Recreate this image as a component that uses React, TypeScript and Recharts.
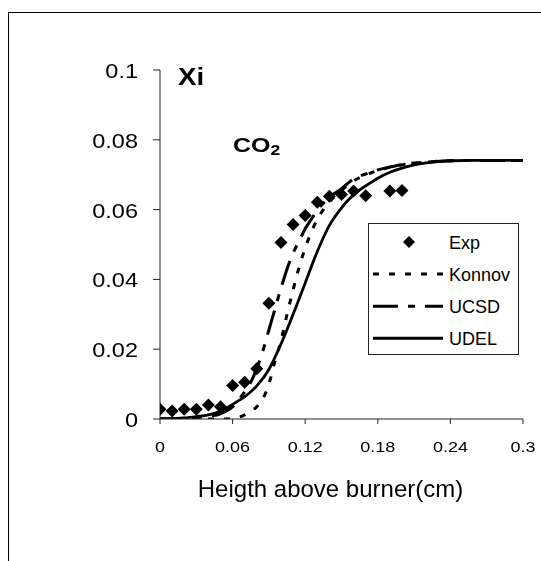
import React from 'react';
import { ComposedChart, Line, Scatter, XAxis, YAxis, Legend } from 'recharts';

const FONT = '"Liberation Sans", Arial, Helvetica, sans-serif';

const expX = [0, 0.01, 0.02, 0.03, 0.04, 0.05, 0.06, 0.07, 0.08, 0.09, 0.1, 0.11, 0.12, 0.13, 0.14, 0.15, 0.16, 0.17, 0.19, 0.2];
const expY = [0.0028, 0.0023, 0.0028, 0.0028, 0.004, 0.0035, 0.0096, 0.0105, 0.0144, 0.0332, 0.0506, 0.0557, 0.0583, 0.0621, 0.0638, 0.0643, 0.0653, 0.064, 0.0653, 0.0655];

const konnovX = [0, 0.03, 0.055, 0.06, 0.065, 0.07, 0.075, 0.08, 0.085, 0.09, 0.095, 0.1, 0.105, 0.11, 0.115, 0.12, 0.125, 0.13, 0.135, 0.14, 0.15, 0.16, 0.17, 0.18, 0.19, 0.2, 0.22, 0.24, 0.27, 0.3];
const konnovY = [0, 0, 0, 0.0002, 0.0005, 0.0012, 0.0022, 0.0035, 0.0058, 0.01, 0.0165, 0.0225, 0.03, 0.037, 0.0435, 0.049, 0.0535, 0.0572, 0.06, 0.0622, 0.0655, 0.0682, 0.0699, 0.0712, 0.0721, 0.0728, 0.0736, 0.074, 0.0741, 0.0741];

const ucsdX = [0, 0.02, 0.04, 0.05, 0.06, 0.065, 0.07, 0.075, 0.08, 0.085, 0.09, 0.095, 0.1, 0.105, 0.11, 0.115, 0.12, 0.125, 0.13, 0.14, 0.15, 0.16, 0.17, 0.18, 0.19, 0.2, 0.22, 0.24, 0.27, 0.3];
const ucsdY = [0, 0.0002, 0.0008, 0.0015, 0.0035, 0.0055, 0.0078, 0.0105, 0.0145, 0.0195, 0.0255, 0.0315, 0.0375, 0.043, 0.0475, 0.051, 0.0545, 0.0572, 0.0598, 0.0635, 0.066, 0.0688, 0.0702, 0.0714, 0.0722, 0.0729, 0.0736, 0.074, 0.0741, 0.0741];

const udelX = [0, 0.01, 0.02, 0.03, 0.04, 0.05, 0.06, 0.07, 0.08, 0.09, 0.1, 0.11, 0.12, 0.13, 0.14, 0.15, 0.16, 0.17, 0.18, 0.19, 0.2, 0.21, 0.22, 0.24, 0.26, 0.28, 0.3];
const udelY = [0, 0.0001, 0.0003, 0.0007, 0.0012, 0.0022, 0.0042, 0.0064, 0.0095, 0.0142, 0.0215, 0.03, 0.039, 0.048, 0.0555, 0.0605, 0.0643, 0.0668, 0.069, 0.0707, 0.0719, 0.0728, 0.0734, 0.074, 0.0741, 0.0741, 0.0741];

const xTicks = [0, 0.06, 0.12, 0.18, 0.24, 0.3];
const yTicks = [0, 0.02, 0.04, 0.06, 0.08, 0.1];

const seriesNames = ['Exp', 'Konnov', 'UCSD', 'UDEL'];

const zip = (xs: number[], ys: number[]) => xs.map((x, i) => ({ x, y: ys[i] }));
const expData = zip(expX, expY);
const konnovData = zip(konnovX, konnovY);
const ucsdData = zip(ucsdX, ucsdY);
const udelData = zip(udelX, udelY);

const KONNOV_DASH = '6 10';
const UCSD_DASH = '25 10 7 10';

const Diamond = (props: any) => {
  const { cx, cy } = props;
  if (cx == null || cy == null) return null;
  const r = 6.5;
  return <polygon points={`${cx},${cy - r} ${cx + r},${cy} ${cx},${cy + r} ${cx - r},${cy}`} fill="#000" />;
};

const XTick = (props: any) => {
  const { x, y, payload } = props;
  return (
    <g transform={`translate(${x},${y})`}>
      <text transform="scale(1.2,1)" x={0} y={0} dy={10.5} textAnchor="middle" fontSize={15} fontFamily={FONT} fill="#000">
        {String(payload.value)}
      </text>
    </g>
  );
};

const YTick = (props: any) => {
  const { x, y, payload } = props;
  return (
    <g transform={`translate(${x},${y})`}>
      <text transform="scale(1.12,1)" x={0} y={0} dy={8} textAnchor="end" fontSize={21} fontFamily={FONT} fill="#000">
        {String(payload.value)}
      </text>
    </g>
  );
};

const LegendBox = () => {
  const rows = [19, 51, 83.3, 115.3];
  return (
    <svg width={151} height={132} style={{ display: 'block' }}>
      <rect x={0.5} y={0.5} width={150} height={131} fill="#fff" stroke="#222" strokeWidth={1} />
      <polygon points={`41,${rows[0] - 6} 47,${rows[0]} 41,${rows[0] + 6} 35,${rows[0]}`} fill="#000" />
      <line x1={5} x2={75} y1={rows[1]} y2={rows[1]} stroke="#000" strokeWidth={3} strokeDasharray={KONNOV_DASH} />
      <line x1={5} x2={75} y1={rows[2]} y2={rows[2]} stroke="#000" strokeWidth={3} strokeDasharray={UCSD_DASH} />
      <line x1={5} x2={75} y1={rows[3]} y2={rows[3]} stroke="#000" strokeWidth={3} />
      {seriesNames.map((n, i) => (
        <text key={n} x={81} y={rows[i] + 6.5} fontSize={18} fontFamily={FONT} fill="#000">{n}</text>
      ))}
    </svg>
  );
};

export default function App() {
  return (
    <div style={{ position: 'fixed', left: 0, top: 0, width: 541, height: 561, fontFamily: FONT }}>
      <div style={{ position: 'absolute', left: 8, top: 12, width: 700, height: 700, borderLeft: '1.5px solid #000', borderTop: '1.5px solid #000', pointerEvents: 'none' }} />
      <ComposedChart width={541} height={561} margin={{ top: 70, right: 18, bottom: 62, left: 0 }}>
        <XAxis
          type="number"
          dataKey="x"
          domain={[0, 0.3]}
          ticks={xTicks}
          interval={0}
          allowDataOverflow
          height={80}
          tickSize={5}
          tickMargin={17}
          axisLine={{ stroke: '#222' }}
          tickLine={{ stroke: '#222' }}
          tick={<XTick />}
          label={{ value: 'Heigth above burner(cm)', position: 'insideBottom', offset: 2, dx: -11, fontSize: 24, fill: '#000', fontFamily: FONT }}
        />
        <YAxis
          type="number"
          domain={[0, 0.1]}
          ticks={yTicks}
          interval={0}
          allowDataOverflow
          width={160}
          tickSize={7}
          tickMargin={15}
          axisLine={{ stroke: '#222' }}
          tickLine={{ stroke: '#222' }}
          tick={<YTick />}
        />
        <Legend
          layout="vertical"
          align="center"
          verticalAlign="middle"
          wrapperStyle={{ left: 368, top: 223, width: 151, height: 132 }}
          content={() => <LegendBox />}
        />
        <Line data={konnovData} dataKey="y" name="Konnov" type="monotone" stroke="#000" strokeWidth={3} strokeDasharray={KONNOV_DASH} dot={false} activeDot={false} isAnimationActive={false} />
        <Line data={ucsdData} dataKey="y" name="UCSD" type="monotone" stroke="#000" strokeWidth={3} strokeDasharray={UCSD_DASH} dot={false} activeDot={false} isAnimationActive={false} />
        <Line data={udelData} dataKey="y" name="UDEL" type="monotone" stroke="#000" strokeWidth={2.8} dot={false} activeDot={false} isAnimationActive={false} />
        <Scatter data={expData} dataKey="y" name="Exp" shape={Diamond} fill="#000" isAnimationActive={false} />
      </ComposedChart>
      <svg width={541} height={561} style={{ position: 'absolute', left: 0, top: 0, pointerEvents: 'none' }}>
        <g transform="translate(178,85) scale(1.2,1)">
          <text x={0} y={0} fontSize={23} fontWeight="bold" fontFamily={FONT} fill="#000">Xi</text>
        </g>
        <g transform="translate(233,152) scale(1.25,1)">
          <text x={0} y={0} fontSize={20} fontWeight="bold" fontFamily={FONT} fill="#000">
            CO<tspan fontSize={14} dy={3}>2</tspan>
          </text>
        </g>
      </svg>
    </div>
  );
}
